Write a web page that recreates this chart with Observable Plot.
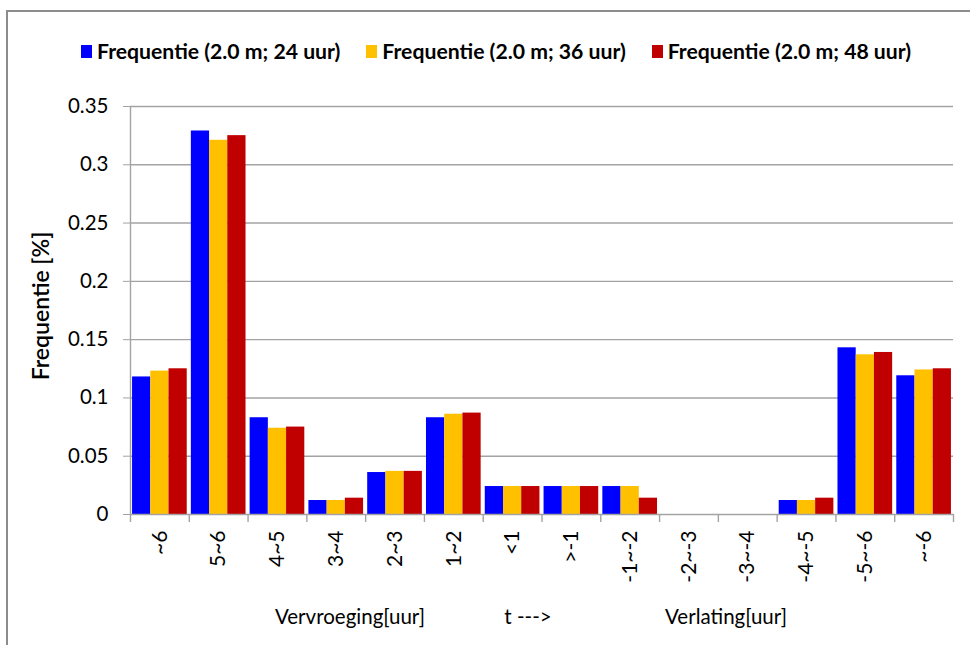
<!DOCTYPE html>
<html><head><meta charset="utf-8">
<script src="https://cdn.jsdelivr.net/npm/d3@7"></script>
<script src="https://cdn.jsdelivr.net/npm/@observablehq/plot@0.6"></script>
<style>
body{margin:0;background:#fff;}
#wrap{position:relative;width:970px;height:645px;overflow:hidden;font-family:Lato,"Open Sans",sans-serif;color:#000;}
#frame{position:absolute;left:6px;top:10px;width:1000px;height:700px;border-left:2px solid #8c8c8c;border-top:2px solid #8c8c8c;}
#chart{position:absolute;left:0;top:0;}
#legend{position:absolute;top:38px;left:81px;display:flex;font-weight:bold;font-size:21.2px;line-height:27px;white-space:nowrap;}
.item{display:flex;align-items:center;margin-right:26px;}
.sw{width:11px;height:13px;margin-right:5px;}
.bl{position:absolute;top:604px;font-size:20.5px;white-space:nowrap;transform:translateX(-50%);}
#ytitle{position:absolute;left:40px;top:306px;font-size:23px;font-weight:600;white-space:nowrap;transform:translate(-50%,-50%) rotate(-90deg);}
</style></head>
<body><div id="wrap"><div id="frame"></div><div id="chart"></div><div id="legend"></div>
<div id="ytitle"></div>
<div class="bl" id="b1" style="left:350px"></div><div class="bl" id="b2" style="left:528px"></div><div class="bl" id="b3" style="left:726px"></div>
</div>
<script>
const categories = ["~6","5~6","4~5","3~4","2~3","1~2","<1",">-1","-1~-2","-2~-3","-3~-4","-4~-5","-5~-6","~-6"];
const series = ["Frequentie (2.0 m; 24 uur)","Frequentie (2.0 m; 36 uur)","Frequentie (2.0 m; 48 uur)"];
const freq24 = [0.118,0.329,0.083,0.012,0.036,0.083,0.024,0.024,0.024,0,0,0.012,0.143,0.119];
const freq36 = [0.123,0.321,0.074,0.012,0.037,0.086,0.024,0.024,0.024,0,0,0.012,0.137,0.124];
const freq48 = [0.125,0.325,0.075,0.014,0.037,0.087,0.024,0.024,0.014,0,0,0.014,0.139,0.125];
const colors = ["#0000ff","#ffc000","#c00000"];
const yTicks = [0,0.05,0.1,0.15,0.2,0.25,0.3,0.35];
const yTitle = "Frequentie [%]";
const bottomLabels = ["Vervroeging[uur]","t --->","Verlating[uur]"];

const values = [freq24, freq36, freq48];
const pad = 0.035, bw = (1 - 2*pad)/3;
const rows = [];
categories.forEach((c,i)=>values.forEach((arr,s)=>rows.push({i, s, cat:c, series:series[s], value:arr[i]})));

const chart = Plot.plot({
  width: 970, height: 645,
  marginTop: 106, marginBottom: 131, marginLeft: 130, marginRight: 17,
  style: {fontFamily: "Lato, 'Open Sans', sans-serif", fontSize: "20px", color: "#000", background: "transparent"},
  x: {domain: [0, categories.length], axis: null},
  y: {domain: [0, 0.35], axis: null},
  color: {domain: series, range: colors},
  marks: [
    Plot.gridY(yTicks.slice(1), {stroke: "#a3a3a3", strokeOpacity: 1, strokeWidth: 1.4}),
    Plot.rectY(rows, {x1: d => d.i + pad + d.s*bw, x2: d => d.i + pad + (d.s+1)*bw, y: "value", fill: "series"}),
    Plot.ruleX([0], {stroke: "#a3a3a3", strokeWidth: 1.4}),
    Plot.ruleY([0], {stroke: "#a3a3a3", strokeWidth: 1.4}),
    Plot.axisY({ticks: yTicks, tickSize: 7, tickPadding: 15, tickFormat: d => String(+d.toFixed(2)), stroke: "#a3a3a3", fill: "#000", fontSize: 20.5, label: null}),
    Plot.axisX({ticks: d3.range(categories.length + 1), tickSize: 8, tickFormat: () => "", stroke: "#a3a3a3", strokeWidth: 1.4, label: null}),
    Plot.axisX({ticks: categories.map((c,i) => i + 0.5), tickSize: 0, tickPadding: 16, tickRotate: -90, tickFormat: d => categories[Math.floor(d)], fill: "#000", fontSize: 21, label: null})
  ]
});
document.getElementById("chart").appendChild(chart);

const leg = document.getElementById("legend");
series.forEach((s,k)=>{
  const it = document.createElement("div"); it.className="item";
  const sw = document.createElement("div"); sw.className="sw"; sw.style.background=colors[k];
  const t = document.createElement("span"); t.textContent=s;
  it.appendChild(sw); it.appendChild(t); leg.appendChild(it);
});
document.getElementById("ytitle").textContent = yTitle;
["b1","b2","b3"].forEach((id,k)=>document.getElementById(id).textContent = bottomLabels[k]);
</script></body></html>
